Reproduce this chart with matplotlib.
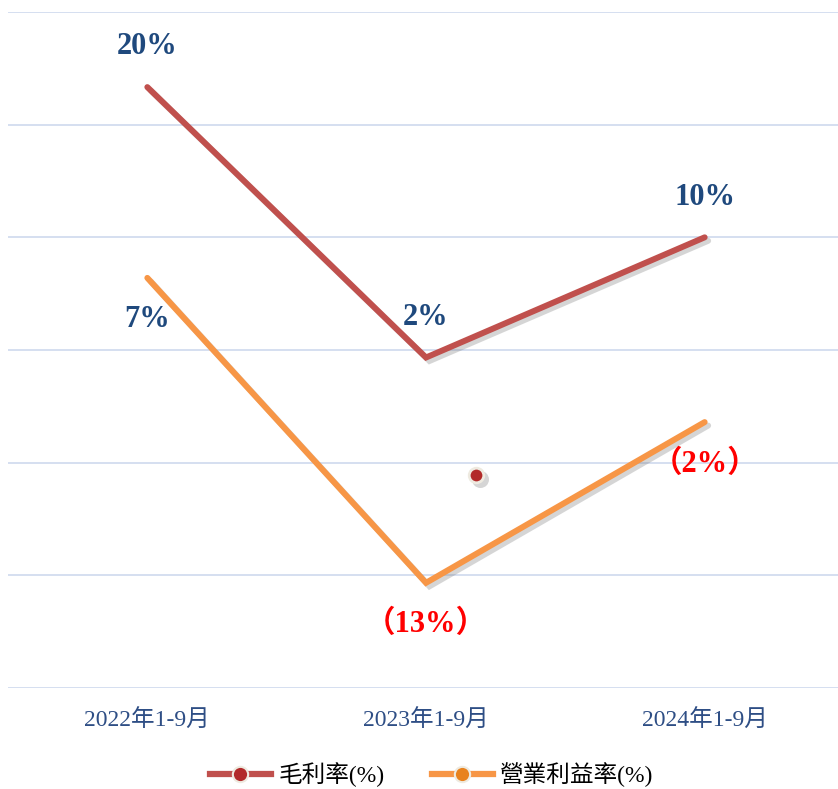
import matplotlib
matplotlib.use("Agg")
import matplotlib.pyplot as plt
import matplotlib.patheffects as pe
from matplotlib.transforms import offset_copy

categories = ["2022年1-9月", "2023年1-9月", "2024年1-9月"]
gross_margin = [20, 2, 10]
operating_margin = [7.3, -13, -2.3]
gross_labels = ["20%", "2%", "10%"]
operating_labels = ["7%", "（13%）", "（2%）"]
operating_label_colors = ["#1F497D", "#FF0000", "#FF0000"]
series_names = ["毛利率(%)", "營業利益率(%)"]
stray_point = (1.18, -5.85)
grid_values = [-20, -12.5, -5, 2.5, 10, 17.5, 25]

fonts = ["Liberation Serif", "Noto Sans CJK TC", "DejaVu Sans"]
plt.rcParams["font.family"] = fonts

fig = plt.figure(figsize=(8.38, 7.89), dpi=100)
ax = fig.add_axes([8 / 838, 101 / 789, 836 / 838, 676 / 789])
ax.set_xlim(-0.5, 2.5)
ax.set_ylim(-20, 25)
for s in ax.spines.values():
    s.set_visible(False)
ax.set_yticks(grid_values)
ax.set_yticklabels([])
ax.tick_params(length=0)
ax.grid(axis="y", color="#D5DFF0", linewidth=1.4)
ax.set_axisbelow(True)

x = list(range(len(categories)))
shadow = [pe.SimpleLineShadow(offset=(2.5, -2.5), shadow_color="#777777", alpha=0.3), pe.Normal()]
red = "#C0504D"
orange = "#F79646"
l1, = ax.plot(x, gross_margin, color=red, lw=4.3, solid_capstyle="round", solid_joinstyle="miter",
              path_effects=shadow, zorder=3)
l2, = ax.plot(x, operating_margin, color=orange, lw=4.3, solid_capstyle="round", solid_joinstyle="miter",
              path_effects=shadow, zorder=3)

shadow_tr = offset_copy(ax.transData, fig=fig, x=2.5, y=-2.5, units="points")
ax.scatter([stray_point[0]], [stray_point[1]], s=150, color="#888888", alpha=0.35, linewidth=0,
           transform=shadow_tr, zorder=3.5)
ax.scatter([stray_point[0]], [stray_point[1]], s=110, color="#B22A2A", edgecolor="#EEEAE0", linewidth=2,
           zorder=4)

for xi, yi, lab in zip(x, gross_margin, gross_labels):
    ax.annotate(lab, (xi, yi), xytext=(0, 29), textcoords="offset points", ha="center", va="center",
                fontsize=22, fontweight="bold", color="#1F497D")
for xi, yi, lab, c in zip(x, operating_margin, operating_labels, operating_label_colors):
    ax.annotate(lab, (xi, yi), xytext=(0, -30), textcoords="offset points", ha="center", va="center",
                fontsize=22, fontweight="bold", color=c)

ax.set_xticks(x)
ax.set_xticklabels(categories, fontsize=17, color="#2E4E85")
ax.tick_params(axis="x", pad=16)

h1 = plt.Line2D([], [], color=red, lw=4.5, marker="o", markersize=11, markerfacecolor="#B22A2A",
                markeredgecolor="#EEEAE0", markeredgewidth=1.5)
h2 = plt.Line2D([], [], color=orange, lw=4.5, marker="o", markersize=11, markerfacecolor="#E8821E",
                markeredgecolor="#EEEAE0", markeredgewidth=1.5)
fig.legend([h1, h2], series_names, loc="center", bbox_to_anchor=(0.515, 0.018), ncol=2, frameon=False,
           fontsize=17, handlelength=2.6, columnspacing=2.0, handletextpad=0.3)

fig.savefig("out.png", dpi=100)
